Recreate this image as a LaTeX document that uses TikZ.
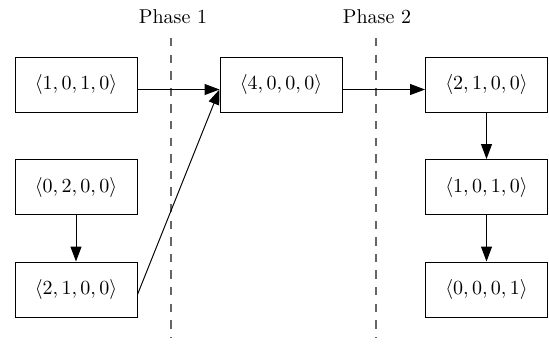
\documentclass[tikz,border=0pt]{standalone}
\usetikzlibrary{arrows.meta}
\begin{document}
\begin{tikzpicture}[x=0.5pt,y=-0.5pt,
  state/.style={draw=black,line width=0.5pt,minimum width=61pt,minimum height=27.5pt,inner sep=0pt},
  arr/.style={line width=0.5pt,-{Triangle[length=7.5pt,width=5.5pt]}},
  phaseline/.style={draw=black!60,line width=0.65pt,dash pattern=on 4.2pt off 4.1pt}]
\useasboundingbox (0,0) rectangle (549,343);
% nodes
\node[state] (a) at (76,84.5) {$\langle 1,0,1,0\rangle$};
\node[state] (b) at (76,187) {$\langle 0,2,0,0\rangle$};
\node[state] (c) at (76,289.5) {$\langle 2,1,0,0\rangle$};
\node[state] (d) at (281,84.5) {$\langle 4,0,0,0\rangle$};
\node[state] (e) at (486.5,84.5) {$\langle 2,1,0,0\rangle$};
\node[state] (f) at (486.5,187) {$\langle 1,0,1,0\rangle$};
\node[state] (g) at (486.5,289.5) {$\langle 0,0,0,1\rangle$};
% phase labels and lines
\node (p1) at (173,17) {Phase 1};
\node (p2) at (377,17) {Phase 2};
\coordinate (p1t) at (171,38);
\coordinate (p1b) at (171,338);
\coordinate (p2t) at (376,38);
\coordinate (p2b) at (376,338);
\draw[phaseline] (p1t) -- (p1b);
\draw[phaseline] (p2t) -- (p2b);
% connectors
\draw[arr] (a.base east) -- (d.base west);
\draw[arr] (c.base east) -- (d.base west);
\draw[arr] (b) -- (c);
\draw[arr] (d.base east) -- (e.base west);
\draw[arr] (e) -- (f);
\draw[arr] (f) -- (g);
\end{tikzpicture}
\end{document}
